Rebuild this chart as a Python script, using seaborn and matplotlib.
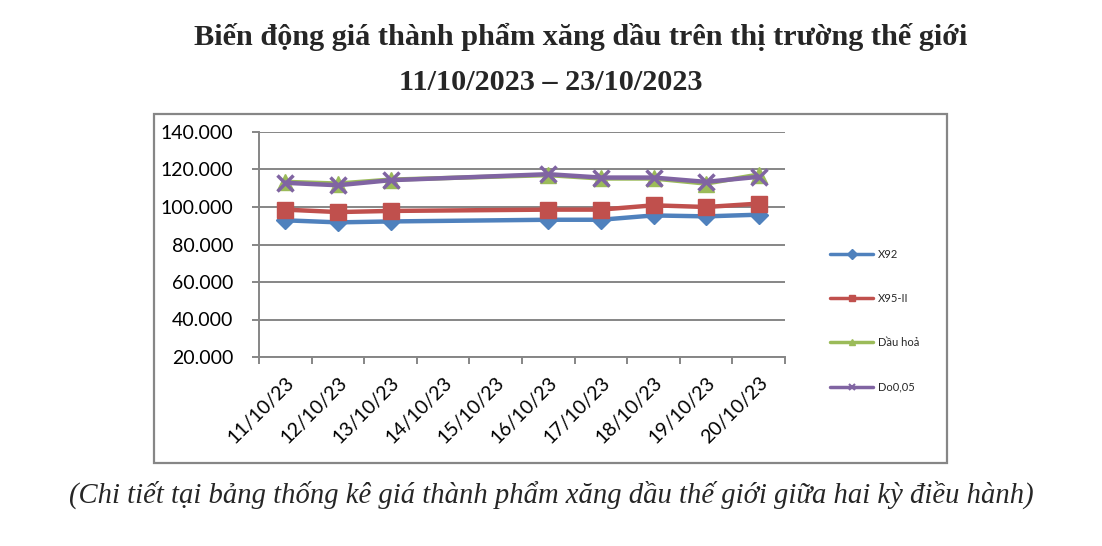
import matplotlib
matplotlib.use("Agg")
import matplotlib.pyplot as plt
from matplotlib.lines import Line2D
from matplotlib.patches import Rectangle
from matplotlib.ticker import FuncFormatter, FixedLocator
import seaborn as sns
import pandas as pd
import numpy as np

sns.set_theme(style="white")

# ------------------------------
# data (VND / litre)
# ------------------------------
dates = ["11/10/23", "12/10/23", "13/10/23", "14/10/23", "15/10/23",
         "16/10/23", "17/10/23", "18/10/23", "19/10/23", "20/10/23"]
x92 = [92900, 91800, 92300, np.nan, np.nan, 93200, 93200, 95500, 95000, 95900]
x95 = [98600, 97300, 97900, np.nan, np.nan, 98600, 98600, 100900, 100000, 101800]
dau_hoa = [113400, 112500, 114600, np.nan, np.nan, 117000, 115200, 115200, 112500, 117300]
do005 = [112900, 111600, 114300, np.nan, np.nan, 117500, 115700, 115700, 113400, 116100]

series_names = ["X92", "X95-II", "Dầu hoả", "Do0,05"]
colors = ["#4F81BD", "#C0504D", "#9BBB59", "#8064A2"]
markers = ["D", "s", "^", "x"]
msizes = [9, 11, 12, 12]

df = pd.DataFrame({"pos": range(len(dates)), "date": dates,
                   "X92": x92, "X95-II": x95, "Dầu hoả": dau_hoa, "Do0,05": do005})
long = df.melt(id_vars=["pos", "date"], var_name="series", value_name="price").dropna()

fig = plt.figure(figsize=(11.02, 5.46), dpi=100)
ax = fig.add_axes([259 / 1102, 1 - 357 / 546, (785 - 259) / 1102, (357 - 132) / 546])

grey = "#868686"

for name, c, m, ms in zip(series_names, colors, markers, msizes):
    sub = long[long["series"] == name]
    sns.lineplot(data=sub, x="pos", y="price", ax=ax, color=c, linewidth=3.2,
                 marker=m, markersize=ms, markeredgecolor=c,
                 markeredgewidth=2.5 if m == "x" else 1, legend=False)

ax.set_xlim(-0.5, len(dates) - 0.5)
ax.set_ylim(20000, 140000)
ax.set_yticks(np.arange(20000, 140001, 20000))
ax.yaxis.set_major_formatter(FuncFormatter(lambda v, p: f"{v:,.0f}".replace(",", ".")))
ax.set_xticks(range(len(dates)))
ax.set_xticklabels(dates, rotation=45, ha="right", va="top", rotation_mode="anchor")
ax.xaxis.set_minor_locator(FixedLocator(np.arange(-0.5, len(dates), 1.0)))
ax.tick_params(axis="x", which="major", length=0, pad=12)
ax.tick_params(axis="x", which="minor", length=5, width=1.4, color=grey, direction="out", bottom=True)
ax.tick_params(axis="y", length=5, width=1.4, color=grey, direction="out", left=True, pad=13.5)
ax.set_xlabel("")
ax.set_ylabel("")

ax.grid(axis="y", color=grey, linewidth=1.4)
ax.grid(axis="x", visible=False)
ax.set_axisbelow(True)
for s in ["top", "right"]:
    ax.spines[s].set_visible(False)
for s in ["left", "bottom"]:
    ax.spines[s].set_color(grey)
    ax.spines[s].set_linewidth(1.4)

for lab in ax.get_xticklabels() + ax.get_yticklabels():
    lab.set_fontfamily("Lato")
    lab.set_fontsize(14)
    lab.set_color("black")

# legend
handles = [Line2D([], [], color=c, lw=2.5, marker=m, markersize=5, markeredgecolor=c,
                  markeredgewidth=1.5 if m == "x" else 1)
           for c, m in zip(colors, markers)]
fig.legend(handles, series_names, loc="center left", bbox_to_anchor=(830 / 1102, 1 - 320.5 / 546),
           frameon=False, borderpad=0, borderaxespad=0, handlelength=3.9, handletextpad=0.45,
           labelspacing=3.0, prop={"family": "Lato", "size": 8})

# outer chart frame
fig.patches.append(Rectangle((154 / 1102, 1 - 463 / 546), (947 - 154) / 1102, (463 - 114) / 546,
                             transform=fig.transFigure, fill=False, edgecolor=grey, linewidth=1.6))

serif = ["Liberation Serif", "DejaVu Serif"]
fig.text(581 / 1102, 1 - 37 / 546, "Biến động giá thành phẩm xăng dầu trên thị trường thế giới",
         ha="center", va="center", fontsize=21.8, fontweight="bold", family=serif)
fig.text(551 / 1102, 1 - 82 / 546, "11/10/2023 – 23/10/2023",
         ha="center", va="center", fontsize=21.8, fontweight="bold", family=serif)
fig.text(551 / 1102, 1 - 495 / 546,
         "(Chi tiết tại bảng thống kê giá thành phẩm xăng dầu thế giới giữa hai kỳ điều hành)",
         ha="center", va="center", fontsize=20.6, style="italic", family=serif)

fig.savefig("out.png", dpi=100)
